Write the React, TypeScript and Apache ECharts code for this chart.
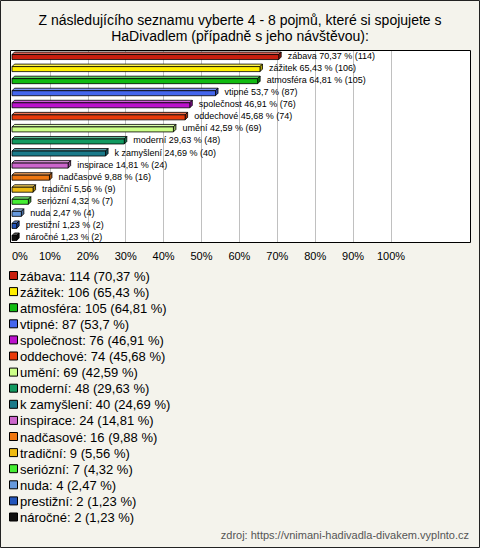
import React, { useEffect, useRef } from "react";
import * as echarts from "echarts";

const categories = [
  "zábava", "zážitek", "atmosféra", "vtipné", "společnost", "oddechové", "umění", "moderní",
  "k zamyšlení", "inspirace", "nadčasové", "tradiční", "seriózní", "nuda", "prestižní", "náročné",
];
const counts = [114, 106, 105, 87, 76, 74, 69, 48, 40, 24, 16, 9, 7, 4, 2, 2];
const percents = [70.37, 65.43, 64.81, 53.7, 46.91, 45.68, 42.59, 29.63, 24.69, 14.81, 9.88, 5.56, 4.32, 2.47, 1.23, 1.23];
const colors = [
  "#c81e0e", "#ffee00", "#11bb11", "#4466ee", "#bb11cc", "#e83a0a", "#ccff88", "#119960",
  "#1a7a8a", "#cc66cc", "#ee7711", "#eebb11", "#44ee33", "#6699dd", "#2255bb", "#111111",
];
const titleLines = [
  "Z následujícího seznamu vyberte 4 - 8 pojmů, které si spojujete s",
  "HaDivadlem (případně s jeho návštěvou):",
];
const sourceText = "zdroj: https://vnimani-hadivadla-divakem.vyplnto.cz";

const FONT = "'Liberation Sans', Arial, sans-serif";

function mix(hex: string, target: number, t: number): string {
  const h = hex.replace("#", "");
  const r = parseInt(h.slice(0, 2), 16), g = parseInt(h.slice(2, 4), 16), b = parseInt(h.slice(4, 6), 16);
  const f = (c: number) => Math.round(c + (target - c) * t);
  return `rgb(${f(r)},${f(g)},${f(b)})`;
}
const fmt = (v: number) => String(v).replace(".", ",");

export default function App() {
  const ref = useRef<HTMLDivElement>(null);
  useEffect(() => {
    document.body.style.margin = "0";
    const chart = echarts.init(ref.current!, null, { renderer: "svg" });

    const legendEls: any[] = [];
    categories.forEach((c, i) => {
      const y = 276 + i * 16.1;
      legendEls.push({
        type: "rect",
        shape: { x: 9.5, y: y - 4.5, width: 8, height: 8 },
        style: { fill: colors[i], stroke: "#000", lineWidth: 1 },
        z: 10,
      });
      legendEls.push({
        type: "text",
        x: 20,
        y: y,
        style: {
          text: `${c}: ${counts[i]} (${fmt(percents[i])} %)`,
          fill: "#000",
          font: `13px ${FONT}`,
          verticalAlign: "middle",
          align: "left",
        },
        z: 10,
      });
    });

    const titleEls = titleLines.map((t, i) => ({
      type: "text",
      x: 240,
      y: 20 + i * 16,
      style: { text: t, fill: "#000", font: `14px ${FONT}`, align: "center", verticalAlign: "middle" },
      z: 10,
    }));

    chart.setOption({
      animation: false,
      backgroundColor: "#f4f3ec",
      textStyle: { fontFamily: FONT },
      grid: { left: 12, top: 50, width: 379, height: 193, containLabel: false },
      xAxis: {
        type: "value",
        min: 0,
        max: 100,
        interval: 10,
        axisLine: { show: false },
        axisTick: { show: false },
        axisLabel: {
          formatter: "{value}%",
          fontSize: 11,
          color: "#000",
          margin: 7,
          alignMinLabel: "left",
          fontFamily: FONT,
        },
        splitLine: { show: true, showMinLine: false, lineStyle: { color: "#c0c0c0", width: 1 } },
      },
      yAxis: {
        type: "category",
        data: categories,
        inverse: true,
        axisLine: { show: false },
        axisTick: { show: false },
        axisLabel: { show: false },
        splitLine: { show: false },
      },
      graphic: [
        { type: "rect", shape: { x: 0.5, y: 0.5, width: 479, height: 547 }, style: { fill: "none", stroke: "#222", lineWidth: 1 }, z: 20 },
        { type: "rect", shape: { x: 10, y: 50, width: 461, height: 193 }, style: { fill: "#fff" }, z: -10 },
        { type: "rect", shape: { x: 10.5, y: 50.5, width: 460, height: 192 }, style: { fill: "none", stroke: "#000", lineWidth: 1 }, z: 20 },
        ...titleEls,
        ...legendEls,
        {
          type: "text",
          x: 469,
          y: 535,
          style: { text: sourceText, fill: "#555", font: `11px ${FONT}`, align: "right", verticalAlign: "middle" },
          z: 10,
        },
      ],
      series: [
        {
          type: "custom",
          data: percents.map((p, i) => [p, i]),
          encode: { x: 0, y: 1 },
          clip: false,
          renderItem: (params: any, api: any) => {
            const v = api.value(0);
            const idx = api.value(1);
            const s = api.coord([0, idx]);
            const e = api.coord([v, idx]);
            const yc = e[1];
            const x0 = s[0];
            const x1 = Math.max(e[0], x0 + 2);
            const col = colors[idx];
            const d = 2.5;
            const fy = yc - 1.5;
            const fh = 5;
            const i = params.dataIndex;
            return {
              type: "group",
              children: [
                {
                  type: "polygon",
                  shape: { points: [[x0, fy], [x0 + d, fy - d], [x1 + d, fy - d], [x1, fy]] },
                  style: { fill: mix(col, 255, 0.3), stroke: "#000", lineWidth: 0.8 },
                },
                {
                  type: "polygon",
                  shape: { points: [[x1, fy], [x1 + d, fy - d], [x1 + d, fy + fh - d], [x1, fy + fh]] },
                  style: { fill: mix(col, 0, 0.3), stroke: "#000", lineWidth: 0.8 },
                },
                {
                  type: "rect",
                  shape: { x: x0, y: fy, width: x1 - x0, height: fh },
                  style: { fill: col, stroke: "#000", lineWidth: 0.8 },
                },
                {
                  type: "text",
                  x: x1 + 9,
                  y: yc,
                  style: {
                    text: `${categories[i]} ${fmt(percents[i])} % (${counts[i]})`,
                    fill: "#000",
                    font: `9px ${FONT}`,
                    verticalAlign: "middle",
                    align: "left",
                  },
                },
              ],
            };
          },
        },
      ],
    });
    return () => chart.dispose();
  }, []);
  return <div ref={ref} style={{ width: 480, height: 548 }} />;
}
